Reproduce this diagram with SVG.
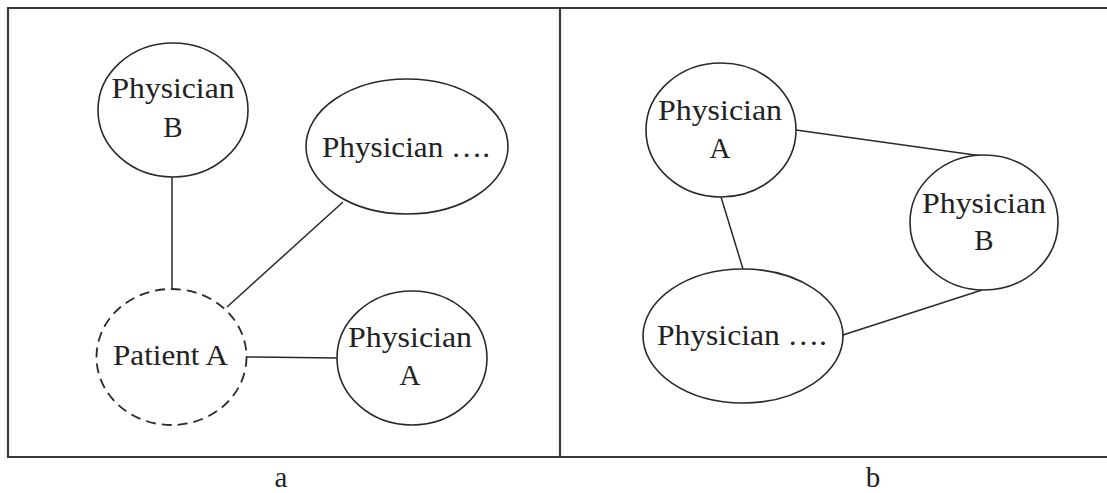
<svg xmlns="http://www.w3.org/2000/svg" width="1107" height="493" viewBox="0 0 1107 493">
<style>
.frame{fill:none;stroke:#3a3a3a;stroke-width:2.2}
.node{fill:#fff;stroke:#2a2a2a;stroke-width:1.6}
.dash{fill:#fff;stroke:#2a2a2a;stroke-width:1.8;stroke-dasharray:10 6}
.edge{stroke:#2a2a2a;stroke-width:1.5;fill:none}
text{font-family:'Liberation Serif', serif;font-size:29px;fill:#222;text-anchor:middle}
</style>
<rect width="1107" height="493" fill="#fff"/>
<g id="frame">
<path class="frame" d="M1107 8 H8 V457 H1107 M560 8 V457"/>
</g>
<g id="connectors">
<line class="edge" x1="172" y1="177" x2="172" y2="289"/>
<line class="edge" x1="343" y1="202" x2="227" y2="307"/>
<line class="edge" x1="247" y1="357" x2="337" y2="358"/>
<line class="edge" x1="796" y1="130" x2="982" y2="156"/>
<line class="edge" x1="721" y1="197" x2="743" y2="269"/>
<line class="edge" x1="843" y1="335" x2="982" y2="290"/>
</g>
<g id="a-physician-b">
<ellipse class="node" cx="173" cy="110" rx="75" ry="67"/>
<text x="173" y="98" textLength="123" lengthAdjust="spacingAndGlyphs">Physician</text>
<text x="173" y="137">B</text>
</g>
<g id="a-physician-etc">
<ellipse class="node" cx="407" cy="146.5" rx="101" ry="67.5"/>
<text x="406" y="157" textLength="168" lengthAdjust="spacingAndGlyphs">Physician ….</text>
</g>
<g id="a-patient-a">
<ellipse class="dash" cx="171.5" cy="357" rx="75" ry="68"/>
<text x="170.5" y="365" textLength="115" lengthAdjust="spacingAndGlyphs">Patient A</text>
</g>
<g id="a-physician-a">
<ellipse class="node" cx="412" cy="358" rx="75" ry="67"/>
<text x="410" y="347" textLength="124" lengthAdjust="spacingAndGlyphs">Physician</text>
<text x="410" y="385">A</text>
</g>
<g id="b-physician-a">
<ellipse class="node" cx="721" cy="130" rx="75" ry="67"/>
<text x="720" y="120" textLength="124" lengthAdjust="spacingAndGlyphs">Physician</text>
<text x="720" y="158">A</text>
</g>
<g id="b-physician-b">
<ellipse class="node" cx="984" cy="222.5" rx="74" ry="67.5"/>
<text x="984" y="213" textLength="124" lengthAdjust="spacingAndGlyphs">Physician</text>
<text x="984" y="250">B</text>
</g>
<g id="b-physician-etc">
<ellipse class="node" cx="743" cy="336" rx="100" ry="67"/>
<text x="742" y="345" textLength="170" lengthAdjust="spacingAndGlyphs">Physician ….</text>
</g>
<g id="captions">
<text x="281" y="487">a</text>
<text x="873" y="487">b</text>
</g>
</svg>
